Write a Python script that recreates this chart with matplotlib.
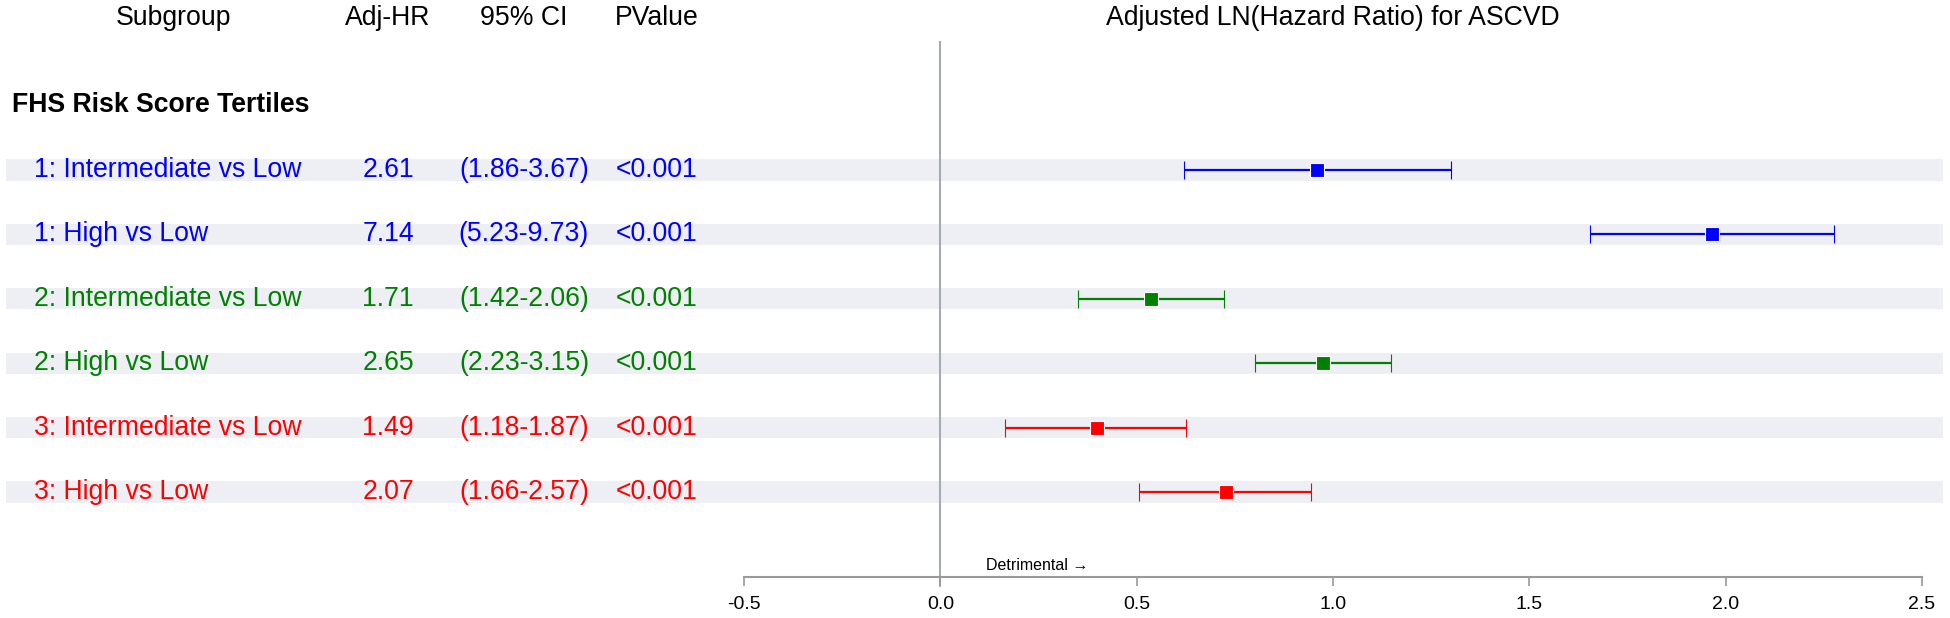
import numpy as np
import matplotlib
matplotlib.use("Agg")
import matplotlib.pyplot as plt

# ---- data ----
subgroups = ["1: Intermediate vs Low", "1: High vs Low",
             "2: Intermediate vs Low", "2: High vs Low",
             "3: Intermediate vs Low", "3: High vs Low"]
adj_hr = [2.61, 7.14, 1.71, 2.65, 1.49, 2.07]
ci_low = [1.86, 5.23, 1.42, 2.23, 1.18, 1.66]
ci_high = [3.67, 9.73, 2.06, 3.15, 1.87, 2.57]
pvalues = ["<0.001"] * 6
row_colors = ["#0000ff", "#0000ff", "#008000", "#008000", "#ff0000", "#ff0000"]
section_title = "FHS Risk Score Tertiles"
headers = ["Subgroup", "Adj-HR", "95% CI", "PValue"]
plot_title = "Adjusted LN(Hazard Ratio) for ASCVD"
xticks = [-0.5, 0.0, 0.5, 1.0, 1.5, 2.0, 2.5]
note = "Detrimental \u2192"

plt.rcParams['font.family'] = ['Liberation Sans', 'DejaVu Sans']

W, H = 1950, 618
fig = plt.figure(figsize=(W / 100, H / 100), dpi=100)
ax = fig.add_axes([0, 0, 1, 1])

# pixel layout helpers
px0, px1 = 744.0, 1922.0          # pixel positions of x=-0.5 and x=2.5
ppu = (px1 - px0) / 3.0
xl = -0.5 - px0 / ppu
xr = 2.5 + (W - px1) / ppu
row0, rstep = 170.0, 64.4
def ry(p):
    return (p - row0) / rstep
ax.set_xlim(xl, xr)
ax.set_ylim(ry(H), ry(0))

def fx(p):
    return p / W

n = len(subgroups)
ys = np.arange(n)
fs = 19.2

# bands
for y in ys:
    ax.axhspan(y - 0.165, y + 0.165, xmin=fx(6), xmax=fx(1943),
               color="#eeeff5", zorder=0, lw=0)

# zero line
ax.plot([0, 0], [ry(42), ry(586)], color="#a3abb3", lw=1.5, zorder=1)

# estimates
est = np.log(adj_hr)
lo = np.log(ci_low)
hi = np.log(ci_high)
for i in range(n):
    ax.errorbar(est[i], ys[i], xerr=[[est[i] - lo[i]], [hi[i] - est[i]]],
                fmt='s', color=row_colors[i], ms=9.5, mec='white', mew=0.8,
                elinewidth=1.6, capsize=6.5, capthick=1.6, zorder=3)

# text table
tr = ax.get_yaxis_transform()  # x axes-fraction, y data
hdr_y = ry(18)
col_x = [fx(173), fx(388), fx(524), fx(657)]
for hx, h in zip(col_x, headers):
    ax.text(hx, hdr_y, h, transform=tr, ha='center', va='center', fontsize=fs)
ax.text(1.0, hdr_y, plot_title, ha='center', va='center', fontsize=fs)
ax.text(fx(12), ry(105), section_title, transform=tr, ha='left', va='center',
        fontsize=fs, fontweight='bold')
for i in range(n):
    c = row_colors[i]
    ax.text(fx(34), ys[i], subgroups[i], transform=tr, ha='left', va='center', fontsize=fs, color=c)
    ax.text(col_x[1], ys[i], f"{adj_hr[i]:.2f}", transform=tr, ha='center', va='center', fontsize=fs, color=c)
    ax.text(col_x[2], ys[i], f"({ci_low[i]:.2f}-{ci_high[i]:.2f})", transform=tr, ha='center', va='center', fontsize=fs, color=c)
    ax.text(col_x[3], ys[i], pvalues[i], transform=tr, ha='center', va='center', fontsize=fs, color=c)

ax.text(0.117, ry(566), note, ha='left', va='center', fontsize=11.5)

# axis
for s in ['top', 'right', 'left']:
    ax.spines[s].set_visible(False)
ax.spines['bottom'].set_position(('data', ry(577)))
ax.spines['bottom'].set_bounds(-0.5, 2.5)
ax.spines['bottom'].set_color('#9a9a9a')
ax.spines['bottom'].set_linewidth(1.5)
ax.set_xticks(xticks)
ax.set_xticklabels([f"{t:.1f}" for t in xticks])
ax.tick_params(axis='x', length=6.5, width=1.2, color='#9a9a9a', labelsize=14, pad=7)
ax.set_yticks([])
ax.set_facecolor('white')

fig.savefig("out.png", dpi=100, facecolor='white')
